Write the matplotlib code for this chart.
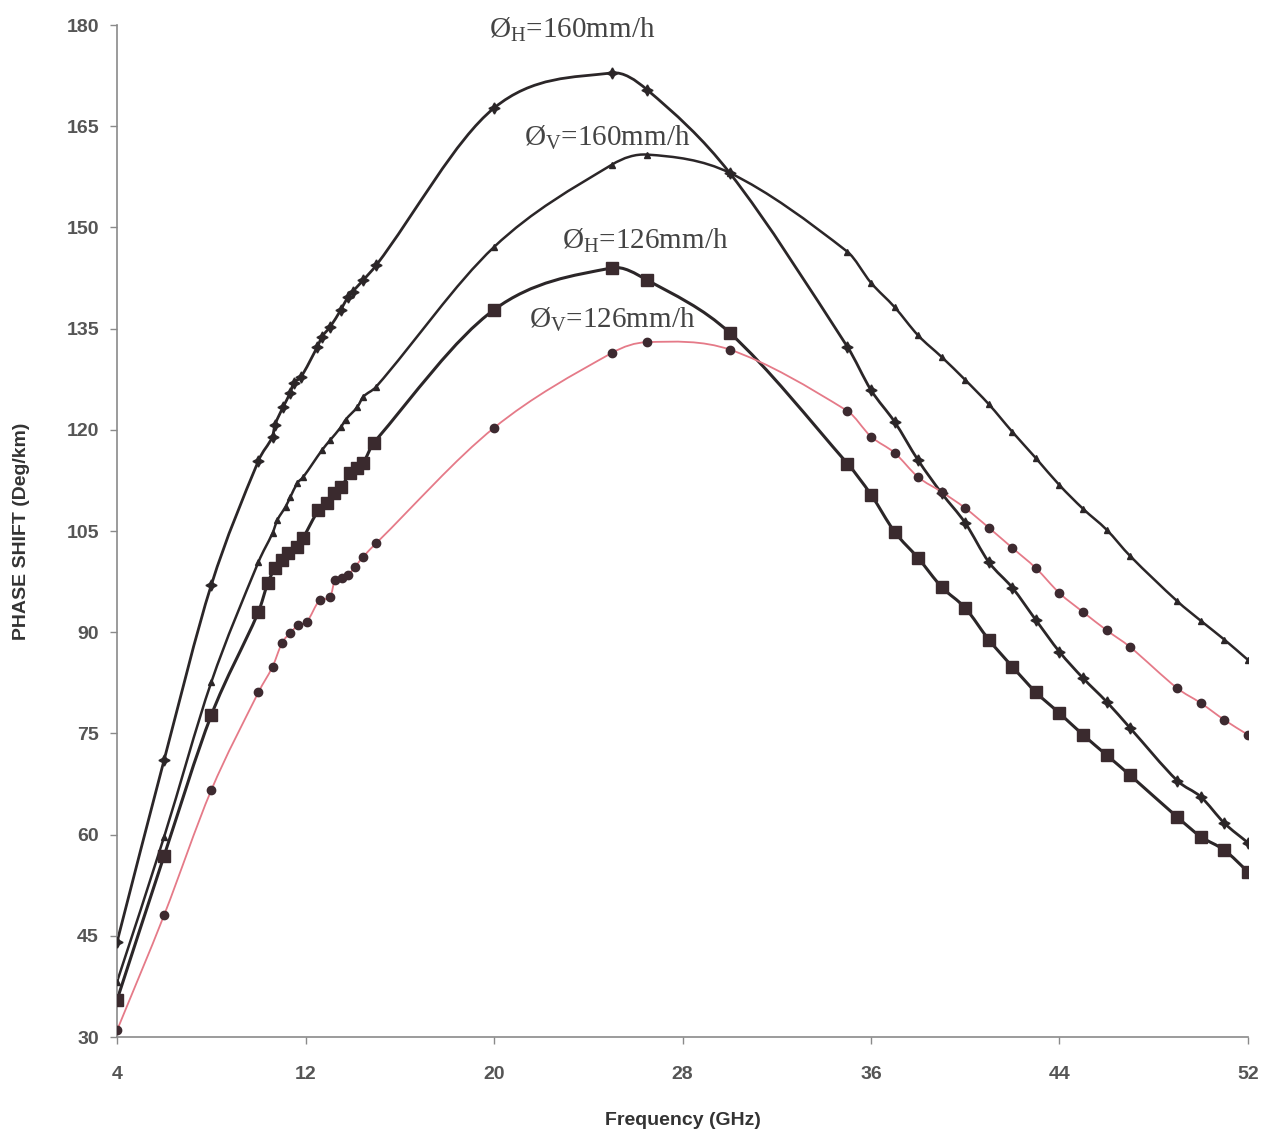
import matplotlib
matplotlib.use("Agg")
import matplotlib.pyplot as plt
from matplotlib.path import Path
from matplotlib.patches import PathPatch

plt.rcParams['mathtext.fontset'] = 'custom'
plt.rcParams['mathtext.rm'] = 'Liberation Serif'
plt.rcParams['mathtext.it'] = 'Liberation Serif:italic'

# ØH = 160 mm/h
fh160 = [4, 6, 8, 10, 10.6, 10.7, 11.05, 11.35, 11.5, 11.8, 12.5, 12.7, 13.05, 13.5, 13.8, 14.0, 14.45, 15,
         20, 25, 26.5, 30, 35, 36, 37, 38, 39, 40, 41, 42, 43, 44, 45, 46, 47, 49, 50, 51, 52]
ph160 = [44.1, 71.1, 97, 115.4, 119, 120.7, 123.4, 125.5, 127, 127.8, 132.3, 133.8, 135.3, 137.8, 139.7, 140.5, 142.2, 144.4,
         167.7, 172.9, 170.4, 158.1, 132.3, 125.9, 121.2, 115.5, 110.6, 106.2, 100.4, 96.6, 91.8, 87.1, 83.2, 79.7, 75.8, 68.0, 65.6, 61.7, 58.8]

# ØV = 160 mm/h
fv160 = [4, 6, 8, 10, 10.6, 10.8, 11.15, 11.35, 11.65, 11.9, 12.7, 13.05, 13.5, 13.7, 14.2, 14.45, 15,
         20, 25, 26.5, 30, 35, 36, 37, 38, 39, 40, 41, 42, 43, 44, 45, 46, 47, 49, 50, 51, 52]
pv160 = [38.2, 59.7, 82.6, 100.4, 104.7, 106.6, 108.6, 110, 112.1, 113, 117, 118.5, 120.4, 121.5, 123.4, 124.9, 126.4,
         147.1, 159.3, 160.8, 158.1, 146.4, 141.8, 138.2, 134, 130.8, 127.4, 123.8, 119.7, 115.8, 111.8, 108.3, 105.2, 101.3, 94.6, 91.7, 88.9, 85.9]

# ØH = 126 mm/h
fh126 = [4, 6, 8, 10, 10.4, 10.7, 11.0, 11.25, 11.65, 11.9, 12.55, 12.9, 13.2, 13.5, 13.9, 14.2, 14.45, 14.9,
         20, 25, 26.5, 30, 35, 36, 37, 38, 39, 40, 41, 42, 43, 44, 45, 46, 47, 49, 50, 51, 52]
ph126 = [35.5, 56.9, 77.7, 93, 97.3, 99.5, 100.7, 101.7, 102.6, 104, 108.1, 109.2, 110.7, 111.5, 113.6, 114.4, 115.1, 118.1,
         137.8, 144, 142.2, 134.4, 115, 110.4, 104.9, 101, 96.7, 93.6, 88.9, 84.9, 81.1, 78, 74.8, 71.8, 68.8, 62.6, 59.7, 57.7, 54.5]

# ØV = 126 mm/h
fv126 = [4, 6, 8, 10, 10.6, 11.0, 11.35, 11.7, 12.05, 12.6, 13.05, 13.25, 13.55, 13.8, 14.1, 14.45, 15,
         20, 25, 26.5, 30, 35, 36, 37, 38, 39, 40, 41, 42, 43, 44, 45, 46, 47, 49, 50, 51, 52]
pv126 = [31, 48.1, 66.6, 81.1, 84.9, 88.4, 89.9, 91.1, 91.5, 94.8, 95.2, 97.8, 98, 98.5, 99.7, 101.2, 103.2,
         120.3, 131.4, 133, 131.9, 122.8, 119, 116.6, 113, 110.8, 108.4, 105.5, 102.5, 99.5, 95.8, 93, 90.3, 87.8, 81.7, 79.5, 77, 74.8]

xticks = [4, 12, 20, 28, 36, 44, 52]
yticks = [30, 45, 60, 75, 90, 105, 120, 135, 150, 165, 180]

labels = [r"Ø$_\mathrm{H}$=160mm/h", r"Ø$_\mathrm{V}$=160mm/h", r"Ø$_\mathrm{H}$=126mm/h", r"Ø$_\mathrm{V}$=126mm/h"]
label_pos = [(23.3, 179.3), (24.8, 163.3), (26.4, 148.0), (25.0, 136.3)]


def smooth_line(ax, xs, ys, **kw):
    """Smoothed line: cubic Hermite (as Bezier) through the data points."""
    n = len(xs)
    slopes = []
    for i in range(n):
        a = max(i - 1, 0)
        b = min(i + 1, n - 1)
        slopes.append((ys[b] - ys[a]) / (xs[b] - xs[a]))
    verts = [(xs[0], ys[0])]
    codes = [Path.MOVETO]
    for i in range(n - 1):
        h = xs[i + 1] - xs[i]
        c1 = (xs[i] + h / 3.0, ys[i] + slopes[i] * h / 3.0)
        c2 = (xs[i + 1] - h / 3.0, ys[i + 1] - slopes[i + 1] * h / 3.0)
        verts += [c1, c2, (xs[i + 1], ys[i + 1])]
        codes += [Path.CURVE4, Path.CURVE4, Path.CURVE4]
    patch = PathPatch(Path(verts, codes), facecolor='none', transform=ax.transData,
                      capstyle='round', joinstyle='round', **kw)
    ax.add_patch(patch)


fig = plt.figure(figsize=(12.75, 11.39), dpi=100)
ax = fig.add_axes([0.0918, 0.0895, 0.887, 0.8885])

dark = '#2b2628'
smooth_line(ax, fh160, ph160, edgecolor=dark, lw=2.0, zorder=2)
smooth_line(ax, fv160, pv160, edgecolor=dark, lw=1.8, zorder=2)
smooth_line(ax, fh126, ph126, edgecolor=dark, lw=2.2, zorder=2)
smooth_line(ax, fv126, pv126, edgecolor='#e57a88', lw=1.3, zorder=2)

ax.plot(fh160, ph160, ls='none', marker=(4, 1, 0), ms=8, mfc=dark, mec=dark, zorder=3)
ax.plot(fv160, pv160, ls='none', marker='^', ms=5, mfc=dark, mec=dark, zorder=3)
ax.plot(fh126, ph126, ls='none', marker='s', ms=8, mfc='#3a2a2e', mec='#3a2a2e', zorder=3)
ax.plot(fv126, pv126, ls='none', marker='o', ms=6, mfc='#3d2a30', mec='#3d2a30', zorder=3)

for (x, y), t in zip(label_pos, labels):
    ax.text(x, y, t, ha='center', va='center', fontsize=21, family='Liberation Serif', color='#444444')

ax.set_xlim(4, 52)
ax.set_ylim(30, 180)
ax.set_xticks(xticks)
ax.set_yticks(yticks)
for s in ['top', 'right']:
    ax.spines[s].set_visible(False)
for s in ['left', 'bottom']:
    ax.spines[s].set_color('#8a8a8a')
    ax.spines[s].set_linewidth(1.2)
ax.tick_params(axis='both', colors='#8a8a8a', labelcolor='#555555', labelsize=14, length=5, width=1)
for lab in ax.get_xticklabels() + ax.get_yticklabels():
    lab.set_family('Liberation Sans')
    lab.set_fontweight('bold')
ax.tick_params(axis='x', pad=16)
ax.tick_params(axis='y', pad=8)

ax.set_xlabel('Frequency (GHz)', fontsize=14, fontweight='bold', family='Liberation Sans', color='#333333', labelpad=21)
ax.set_ylabel('PHASE SHIFT (Deg/km)', fontsize=14, fontweight='bold', family='Liberation Sans', color='#333333', labelpad=26)

fig.savefig('out.png', dpi=100, facecolor='white')
